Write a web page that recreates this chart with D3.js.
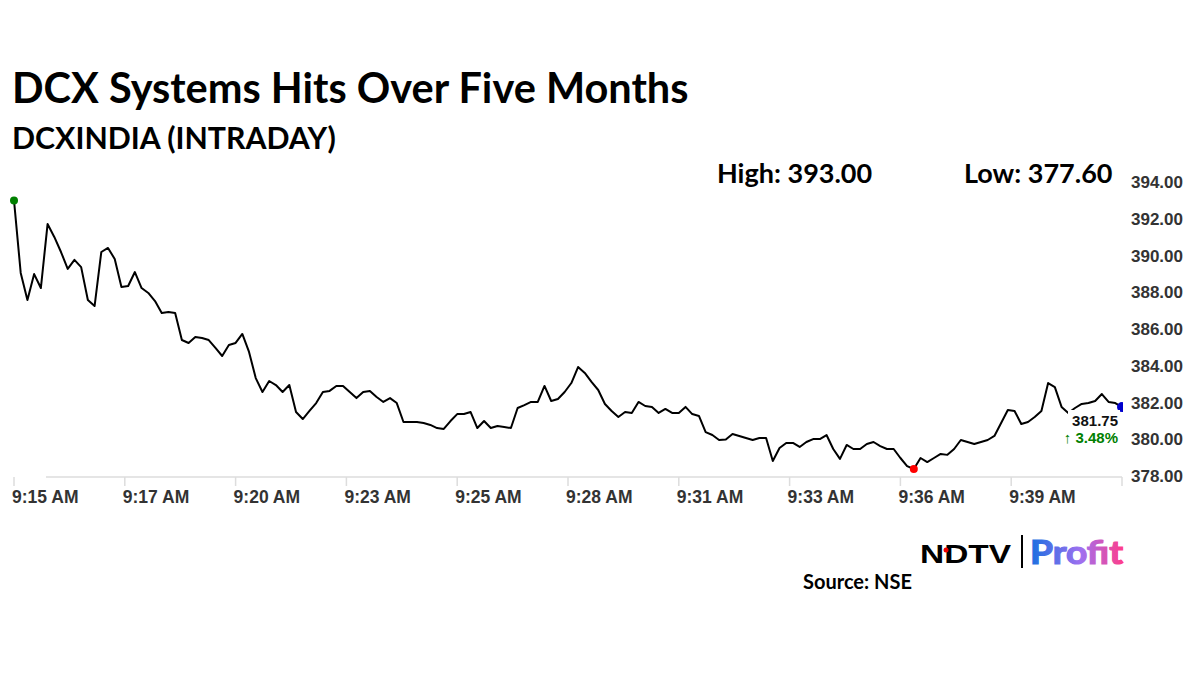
<!DOCTYPE html>
<html><head><meta charset="utf-8">
<script src="https://cdn.jsdelivr.net/npm/d3@7"></script>
<style>body{margin:0;background:#fff}svg{display:block}</style>
</head><body>
<svg id="c" width="1200" height="675"></svg>
<script>
const prices = [393.00,389.05,387.58,388.99,388.23,391.71,391.01,390.19,389.27,389.76,389.37,387.58,387.25,390.19,390.41,389.81,388.29,388.34,389.10,388.23,387.96,387.52,386.87,386.93,386.87,385.40,385.24,385.56,385.51,385.40,384.97,384.53,385.13,385.24,385.73,384.75,383.33,382.57,383.17,382.95,382.57,382.95,381.48,381.10,381.54,381.97,382.57,382.63,382.90,382.90,382.57,382.24,382.57,382.63,382.30,382.03,382.24,381.97,380.94,380.94,380.94,380.88,380.78,380.61,380.56,380.99,381.37,381.37,381.48,380.61,380.99,380.61,380.72,380.67,380.61,381.70,381.86,382.03,382.03,382.90,382.08,382.19,382.57,383.06,383.93,383.61,383.12,382.68,381.92,381.54,381.21,381.48,381.43,382.03,381.81,381.76,381.43,381.65,381.43,381.43,381.76,381.37,381.27,380.39,380.23,379.96,379.99,380.29,380.18,380.07,379.96,380.07,380.07,378.82,379.52,379.80,379.80,379.58,379.85,380.01,380.01,380.23,379.47,378.93,379.69,379.47,379.47,379.74,379.85,379.63,379.47,379.47,378.98,378.54,378.38,378.98,378.76,378.98,379.20,379.15,379.47,379.96,379.85,379.74,379.85,379.96,380.18,380.88,381.59,381.54,380.83,380.94,381.21,381.54,383.06,382.84,381.76,381.43,381.70,381.92,381.97,382.08,382.46,382.03,381.97,381.75];
const timeLabels = ["9:15 AM","9:17 AM","9:20 AM","9:23 AM","9:25 AM","9:28 AM","9:31 AM","9:33 AM","9:36 AM","9:39 AM",""];
const yTicks = [378,380,382,384,386,388,390,392,394];
const title = "DCX Systems Hits Over Five Months";
const subtitle = "DCXINDIA (INTRADAY)";
const highVal = "393.00", lowVal = "377.60", lastVal = "381.75", change = "3.48%";

const svg = d3.select("#c");
const N = prices.length;
const x = d3.scaleLinear().domain([0, N-1]).range([14, 1122]);
const y = d3.scaleLinear().domain([378, 394]).range([476, 182]);

svg.append("text").attr("x",12).attr("y",103).attr("font-family","Lato, sans-serif").attr("font-weight",700).attr("font-size",41.5).attr("fill","#000").text(title);
svg.append("text").attr("x",12).attr("y",149).attr("font-family","Lato, sans-serif").attr("font-weight",700).attr("font-size",30.3).attr("fill","#000").text(subtitle);
svg.append("text").attr("x",717).attr("y",183).attr("font-family","Lato, sans-serif").attr("font-weight",700).attr("font-size",27).text("High: "+highVal);
svg.append("text").attr("x",964).attr("y",183).attr("font-family","Lato, sans-serif").attr("font-weight",700).attr("font-size",27).text("Low: "+lowVal);

svg.append("g").selectAll("text").data(yTicks).join("text")
  .attr("x",1131).attr("y",d=>y(d)+6).attr("font-family","Liberation Sans, Arial, sans-serif")
  .attr("font-weight",700).attr("font-size",17).attr("fill","#333").text(d=>d.toFixed(2));

svg.append("line").attr("x1",46).attr("x2",1122).attr("y1",477).attr("y2",477).attr("stroke","#ddd").attr("stroke-width",1.5);
const tickIdx = timeLabels.map((d,i)=> i*(N-1)/10);
const tg = svg.append("g").selectAll("g").data(timeLabels).join("g").attr("transform",(d,i)=>`translate(${x(tickIdx[i])},0)`);
tg.append("line").attr("y1",477).attr("y2",486).attr("stroke","#ddd").attr("stroke-width",1.5);
tg.append("text").attr("x",-2).attr("y",503).attr("font-family","Liberation Sans, Arial, sans-serif")
  .attr("font-weight",700).attr("font-size",17.5).attr("fill","#333").text(d=>d);

svg.append("path").datum(prices).attr("fill","none").attr("stroke","#000").attr("stroke-width",2)
  .attr("stroke-linejoin","round")
  .attr("d", d3.line().x((d,i)=>x(i)).y(d=>y(d)));

const minI = prices.indexOf(d3.min(prices));
svg.append("circle").attr("cx",x(0)).attr("cy",y(prices[0])).attr("r",4).attr("fill","#008000");
svg.append("circle").attr("cx",x(minI)).attr("cy",y(prices[minI])).attr("r",4).attr("fill","#ff0000");
const defs = svg.append("defs");
defs.append("clipPath").attr("id","cl").append("rect").attr("x",0).attr("y",0).attr("width",x(N-1)+1).attr("height",675);
svg.append("circle").attr("cx",x(N-1)).attr("cy",y(prices[N-1])).attr("r",5).attr("fill","#0000cc").attr("clip-path","url(#cl)");

svg.append("rect").attr("x",1068).attr("y",410).attr("width",52).attr("height",38).attr("fill","#fff");
svg.append("text").attr("x",1118).attr("y",426).attr("text-anchor","end").attr("font-family","Liberation Sans, Arial, sans-serif").attr("font-weight",700).attr("font-size",15).attr("fill","#111").text(lastVal);
svg.append("text").attr("x",1118).attr("y",443).attr("text-anchor","end").attr("font-family","Liberation Sans, Arial, sans-serif").attr("font-weight",700).attr("font-size",15).attr("fill","#008000").text("\u2191 "+change);

const gr = defs.append("linearGradient").attr("id","pg");
gr.append("stop").attr("offset","0%").attr("stop-color","#1a6fe0");
gr.append("stop").attr("offset","55%").attr("stop-color","#a070f0");
gr.append("stop").attr("offset","100%").attr("stop-color","#ff3d8a");
svg.append("text").attr("x",920).attr("y",563).attr("font-family","Liberation Sans, Arial, sans-serif").attr("font-weight",900).attr("font-size",26).attr("textLength",91).attr("lengthAdjust","spacingAndGlyphs").text("NDTV");
svg.append("circle").attr("cx",946).attr("cy",550).attr("r",2.5).attr("fill","#e00");
svg.append("line").attr("x1",1022).attr("x2",1022).attr("y1",535).attr("y2",568).attr("stroke","#000").attr("stroke-width",2);
svg.append("text").attr("x",1030).attr("y",564).attr("font-family","Lato, sans-serif").attr("font-weight",700).attr("font-size",32).attr("fill","url(#pg)").attr("stroke","url(#pg)").attr("stroke-width",1.2).attr("textLength",93).attr("lengthAdjust","spacingAndGlyphs").text("Profit");
svg.append("text").attr("x",803).attr("y",589).attr("font-family","Lato, sans-serif").attr("font-weight",700).attr("font-size",20).text("Source: NSE");
</script>
</body></html>
